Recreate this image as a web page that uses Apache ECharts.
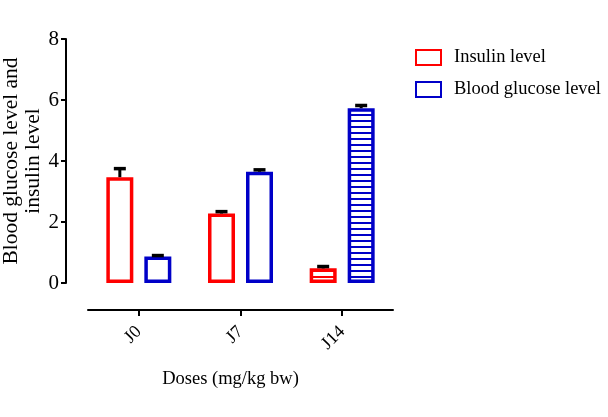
<!DOCTYPE html>
<html><head><meta charset="utf-8">
<script src="https://cdn.jsdelivr.net/npm/echarts@6/dist/echarts.min.js"></script>
<style>html,body{margin:0;padding:0;background:#fff}#c{width:608px;height:417px}</style>
</head><body><div id="c"></div>
<script>
const categories = ['J0', 'J7', 'J14'];
const insulin = [3.47, 2.28, 0.48];
const insulinErr = [0.28, 0.06, 0.06];
const glucose = [0.87, 3.65, 5.73];
const glucoseErr = [0.03, 0.06, 0.09];
const yTicks = [0, 2, 4, 6, 8];
const hatched = [false, false, true];

const RED = '#FF0000', BLUE = '#0000C8';
const FONT = '"Liberation Serif", "Times New Roman", serif';
const BAR_W = 27, GAP = 11;

function stripes(color) {
  const c = document.createElement('canvas');
  c.width = 8; c.height = 6;
  const g = c.getContext('2d');
  g.fillStyle = '#fff'; g.fillRect(0, 0, 8, 6);
  g.fillStyle = color; g.fillRect(0, 0, 8, 2);
  return { image: c, repeat: 'repeat' };
}

function barData(vals, color) {
  return vals.map((v, i) => ({
    value: v,
    itemStyle: { color: hatched[i] ? stripes(color) : '#fff', borderColor: color, borderWidth: 3.5 }
  }));
}

function errSeries(vals, errs, offset) {
  return {
    type: 'custom',
    z: 5,
    silent: true,
    data: vals.map((v, i) => [i, v, errs[i]]),
    encode: { x: 0, y: 1 },
    renderItem: function (params, api) {
      const base = api.coord([api.value(0), api.value(1)]);
      const top = api.coord([api.value(0), api.value(1) + api.value(2)]);
      const x = base[0] + offset;
      return {
        type: 'group',
        children: [
          { type: 'line', shape: { x1: x, y1: base[1], x2: x, y2: top[1] }, style: { stroke: '#000', lineWidth: 3 } },
          { type: 'line', shape: { x1: x - 6, y1: top[1], x2: x + 6, y2: top[1] }, style: { stroke: '#000', lineWidth: 3.5 } }
        ]
      };
    }
  };
}

const chart = echarts.init(document.getElementById('c'), null, { renderer: 'canvas' });
chart.setOption({
  animation: false,
  backgroundColor: '#fff',
  grid: { left: 88, right: 215, top: 39, bottom: 134, containLabel: false, outerBoundsMode: 'none' },
  legend: {
    data: ['Insulin level', 'Blood glucose level'],
    orient: 'vertical',
    left: 415, top: 48,
    padding: 0,
    itemWidth: 25, itemHeight: 15, itemGap: 13,
    icon: 'rect',
    textStyle: { fontFamily: FONT, fontSize: 18.5, lineHeight: 16, color: '#000', padding: [0, 0, 0, 8] }
  },
  xAxis: {
    type: 'category',
    data: categories,
    offset: 27,
    axisLine: { onZero: false, lineStyle: { color: '#000', width: 2 } },
    axisTick: { show: true, length: 6, alignWithLabel: true, lineStyle: { color: '#000', width: 2 } },
    axisLabel: { rotate: 45, margin: 19, fontFamily: FONT, fontSize: 18, color: '#000' },
    name: 'Doses (mg/kg bw)',
    nameLocation: 'middle',
    nameGap: 60,
    nameMoveOverlap: false,
    nameTextStyle: { fontFamily: FONT, fontSize: 18.5, color: '#000', padding: [0, 20, 0, 0] }
  },
  yAxis: {
    type: 'value',
    min: 0, max: 8, interval: 2,
    offset: 22,
    axisLine: { show: true, lineStyle: { color: '#000', width: 2 } },
    axisTick: { show: true, length: 5, lineStyle: { color: '#000', width: 2 } },
    axisLabel: { margin: 7, fontFamily: FONT, fontSize: 21, color: '#000',
      formatter: v => yTicks.includes(v) ? String(v) : '' },
    splitLine: { show: false },
    name: 'Blood glucose level and\ninsulin level',
    nameLocation: 'middle',
    nameGap: 22,
    nameMoveOverlap: false,
    nameTextStyle: { fontFamily: FONT, fontSize: 21.5, color: '#000', lineHeight: 22 }
  },
  series: [
    { name: 'Insulin level', type: 'bar', barWidth: BAR_W, barGap: (GAP / BAR_W * 100) + '%',
      itemStyle: { color: '#fff', borderColor: RED, borderWidth: 3 },
      data: barData(insulin, RED) },
    { name: 'Blood glucose level', type: 'bar', barWidth: BAR_W,
      itemStyle: { color: '#fff', borderColor: BLUE, borderWidth: 3 },
      data: barData(glucose, BLUE) },
    errSeries(insulin, insulinErr, -(BAR_W + GAP) / 2),
    errSeries(glucose, glucoseErr, (BAR_W + GAP) / 2)
  ]
});
</script>
</body></html>
